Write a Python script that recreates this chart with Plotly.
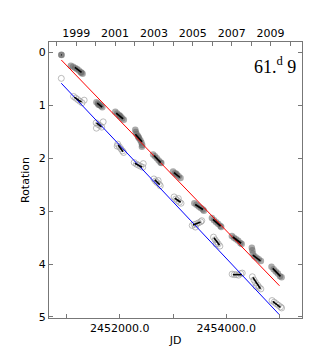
import plotly.graph_objects as go

# ---- data ----
red_jd = [2450900, 2450905,
          2451080, 2451120, 2451160, 2451195, 2451230, 2451265, 2451300, 2451280,
          2451560, 2451590, 2451620, 2451645, 2451670, 2451600,
          2451915, 2451950, 2451985, 2452015, 2452045, 2452075, 2452000,
          2452290, 2452300, 2452315, 2452340, 2452360, 2452385, 2452405, 2452420, 2452415, 2452350,
          2452625, 2452660, 2452695, 2452730, 2452765, 2452780,
          2453000, 2453035, 2453070, 2453105, 2453140, 2453060,
          2453400, 2453440, 2453480, 2453520, 2453560, 2453580,
          2453730, 2453770, 2453810, 2453850, 2453890, 2453905,
          2454105, 2454145, 2454185, 2454225, 2454265, 2454290,
          2454480, 2454490, 2454500, 2454530, 2454570, 2454610, 2454650,
          2454850, 2454890, 2454930, 2454970, 2455010, 2455040]
red_rot = [0.04, 0.045,
           0.25, 0.27, 0.29, 0.31, 0.34, 0.37, 0.40, 0.38,
           0.94, 0.965, 0.99, 1.01, 1.035, 0.985,
           1.12, 1.15, 1.18, 1.21, 1.24, 1.27, 1.20,
           1.46, 1.50, 1.54, 1.58, 1.62, 1.66, 1.70, 1.75, 1.78, 1.60,
           1.93, 1.96, 2.00, 2.04, 2.08, 2.09,
           2.25, 2.28, 2.31, 2.34, 2.37, 2.29,
           2.85, 2.88, 2.91, 2.94, 2.97, 2.99,
           3.13, 3.17, 3.21, 3.24, 3.28, 3.30,
           3.47, 3.50, 3.53, 3.56, 3.60, 3.62,
           3.69, 3.74, 3.80, 3.85, 3.88, 3.91, 3.94,
           4.05, 4.10, 4.14, 4.18, 4.23, 4.25]

blue_jd = [2450900,
           2451130, 2451170, 2451210, 2451250, 2451290, 2451330,
           2451555, 2451590, 2451625, 2451660, 2451687, 2451560,
           2451960, 2451990, 2452020, 2452050, 2452070, 2451950,
           2452270, 2452310, 2452350, 2452390, 2452430, 2452440,
           2452640, 2452670, 2452700, 2452740, 2452760, 2452720,
           2453020, 2453050, 2453085, 2453120, 2453150, 2453100,
           2453360, 2453400, 2453440, 2453480, 2453520, 2453540, 2453420,
           2453760, 2453790, 2453820, 2453850, 2453880, 2453810,
           2454110, 2454150, 2454190, 2454230, 2454270, 2454300,
           2454490, 2454520, 2454550, 2454590, 2454620, 2454650, 2454560,
           2454860, 2454900, 2454940, 2454980, 2455020, 2455040]
blue_rot = [0.4875,
            0.83, 0.86, 0.89, 0.92, 0.95, 0.90,
            1.33, 1.36, 1.38, 1.41, 1.31, 1.43,
            1.73, 1.78, 1.82, 1.86, 1.89, 1.77,
            2.08, 2.11, 2.13, 2.15, 2.17, 2.10,
            2.39, 2.43, 2.46, 2.49, 2.52, 2.42,
            2.73, 2.77, 2.80, 2.83, 2.85, 2.76,
            3.27, 3.25, 3.24, 3.22, 3.20, 3.18, 3.30,
            3.49, 3.54, 3.58, 3.62, 3.66, 3.62,
            4.19, 4.20, 4.20, 4.21, 4.18, 4.17,
            4.24, 4.30, 4.35, 4.40, 4.44, 4.47, 4.42,
            4.69, 4.72, 4.75, 4.78, 4.81, 4.83]

# seasonal fit segments (start/end JD, start/end rotation)
seg_red_jd0 = [2450898, 2451156, 2451574, 2451931, 2452292, 2452643, 2453018, 2453417, 2453749, 2454124, 2454499, 2454873]
seg_red_jd1 = [2450908, 2451280, 2451668, 2452062, 2452418, 2452769, 2453130, 2453561, 2453893, 2454279, 2454643, 2455018]
seg_red_r0 = [0.04, 0.281, 0.956, 1.144, 1.543, 1.950, 2.269, 2.874, 3.156, 3.488, 3.831, 4.082]
seg_red_r1 = [0.045, 0.375, 1.031, 1.256, 1.687, 2.081, 2.363, 2.968, 3.281, 3.606, 3.938, 4.232]

seg_blue_jd0 = [2451143, 2451561, 2451968, 2452281, 2452656, 2453031, 2453374, 2453768, 2454124, 2454499, 2454873]
seg_blue_jd1 = [2451280, 2451655, 2452062, 2452418, 2452750, 2453143, 2453518, 2453874, 2454292, 2454643, 2455018]
seg_blue_r0 = [0.844, 1.331, 1.749, 2.094, 2.406, 2.751, 3.263, 3.501, 4.200, 4.251, 4.706]
seg_blue_r1 = [0.9375, 1.406, 1.875, 2.169, 2.500, 2.831, 3.206, 3.643, 4.200, 4.468, 4.819]

red_line_jd = [2450900, 2455000]
red_line_rot = [0.14, 4.41]
blue_line_jd = [2450900, 2455000]
blue_line_rot = [0.58, 4.96]

x_label_vals = [2452000, 2454000]
x_label_text = ["2452000.0", "2454000.0"]
x_minor_vals = [2451000, 2453000, 2455000]
year_label_jd = [2451179.5, 2451910.5, 2452640.5, 2453371.5, 2454101.5, 2454832.5]
year_label_text = ["1999", "2001", "2003", "2005", "2007", "2009"]
year_minor_jd = [2450814.5, 2451544.5, 2452275.5, 2453005.5, 2453736.5, 2454466.5, 2455197.5]
y_tickvals = [0, 1, 2, 3, 4, 5]

x_range = [2450669, 2455423]
y_range = [5.02, -0.2]

# ---- figure ----
fig = go.Figure()

def seg_xy(j0, j1, r0, r1):
    xs, ys = [], []
    for a, b, c, d in zip(j0, j1, r0, r1):
        xs += [a, b, None]
        ys += [c, d, None]
    return xs, ys

fig.add_trace(go.Scatter(x=blue_jd, y=blue_rot, mode="markers",
                         marker=dict(symbol="circle-open", size=6,
                                     color="rgba(160,160,160,0.7)", line=dict(width=1))))
fig.add_trace(go.Scatter(x=red_jd, y=red_rot, mode="markers",
                         marker=dict(symbol="circle", size=6.5, color="rgba(100,100,100,0.55)",
                                     line=dict(width=0))))
fig.add_trace(go.Scatter(x=red_line_jd, y=red_line_rot, mode="lines",
                         line=dict(color="#ff0000", width=1)))
fig.add_trace(go.Scatter(x=blue_line_jd, y=blue_line_rot, mode="lines",
                         line=dict(color="#0000ff", width=1)))
sx, sy = seg_xy(seg_red_jd0, seg_red_jd1, seg_red_r0, seg_red_r1)
fig.add_trace(go.Scatter(x=sx, y=sy, mode="lines", line=dict(color="black", width=1.6)))
sx, sy = seg_xy(seg_blue_jd0, seg_blue_jd1, seg_blue_r0, seg_blue_r1)
fig.add_trace(go.Scatter(x=sx, y=sy, mode="lines", line=dict(color="black", width=1.6)))
# invisible trace for top axis
fig.add_trace(go.Scatter(x=x_range, y=[2, 2], xaxis="x2", mode="markers",
                         marker=dict(opacity=0), hoverinfo="skip"))

axis_font = dict(family="DejaVu Sans", size=11, color="black")
frame = "#777777"

fig.update_layout(
    width=327, height=349,
    margin=dict(l=41, r=33, t=34, b=36),
    paper_bgcolor="white", plot_bgcolor="white",
    showlegend=False,
    font=axis_font,
    xaxis=dict(range=x_range, tickmode="array", tickvals=x_label_vals, ticktext=x_label_text,
               ticks="inside", ticklen=4, tickcolor=frame,
               minor=dict(tickmode="array", tickvals=x_minor_vals, ticks="inside",
                          ticklen=4, tickcolor=frame, showgrid=False),
               showline=True, linecolor=frame, linewidth=1.2, mirror=False,
               showgrid=False, zeroline=False, tickfont=axis_font,
               title=dict(text="JD", font=axis_font, standoff=2)),
    xaxis2=dict(range=x_range, overlaying="x", side="top", anchor="y",
                tickmode="array", tickvals=year_label_jd, ticktext=year_label_text,
                ticks="inside", ticklen=4, tickcolor=frame,
                minor=dict(tickmode="array", tickvals=year_minor_jd, ticks="inside",
                           ticklen=4, tickcolor=frame, showgrid=False),
                showline=True, linecolor=frame, linewidth=1.2,
                showgrid=False, zeroline=False, tickfont=axis_font),
    yaxis=dict(range=y_range, tickvals=y_tickvals,
               ticks="inside", ticklen=4, tickcolor=frame,
               showline=True, linecolor=frame, linewidth=1.2, mirror="ticks",
               showgrid=False, zeroline=False, tickfont=axis_font,
               title=dict(text="Rotation", font=axis_font, standoff=6)),
    annotations=[dict(text="61.<sup>d</sup> 9", xref="paper", yref="paper",
                      x=0.985, y=0.915, xanchor="right", yanchor="middle",
                      showarrow=False,
                      font=dict(family="Liberation Serif", size=18, color="black"))],
)

fig.write_html("out.html")
